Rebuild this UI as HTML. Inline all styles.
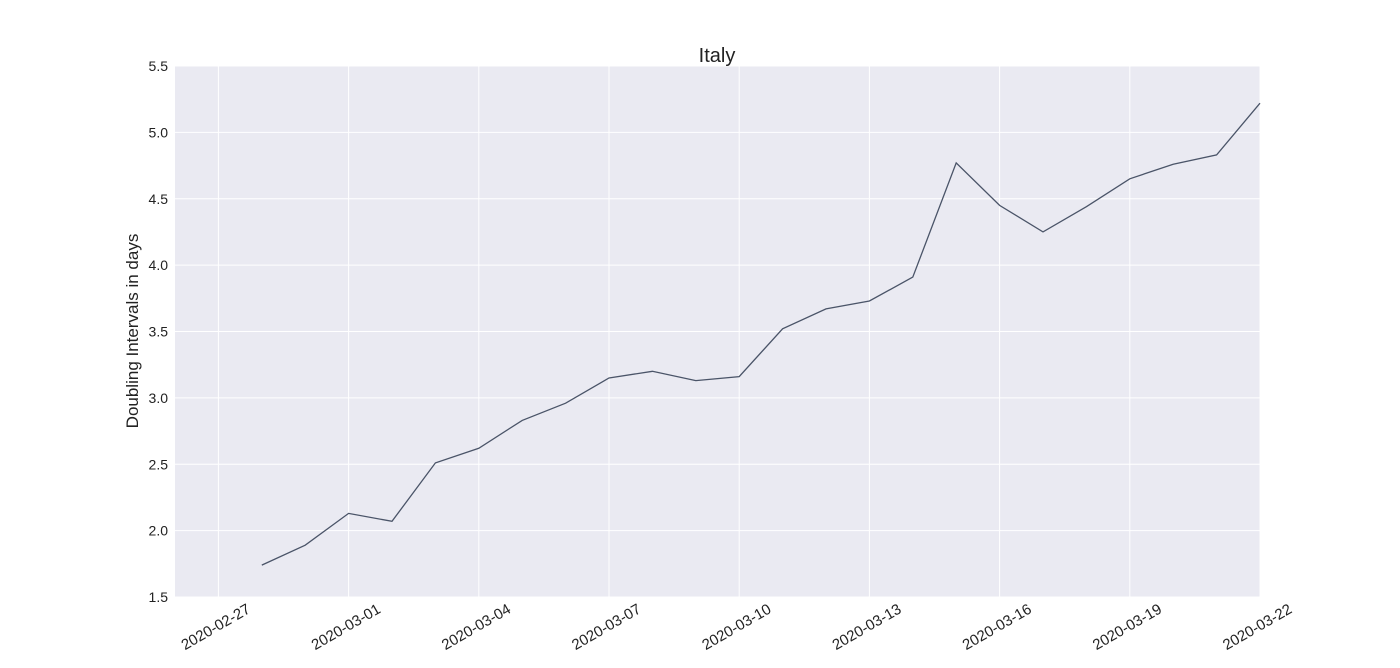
<!DOCTYPE html>
<html><head><meta charset="utf-8"><style>
body{margin:0;background:#fff;width:1400px;height:663px;overflow:hidden;font-family:"Liberation Sans","DejaVu Sans",sans-serif}
</style></head><body>
<svg id="chart" width="1400" height="663" xmlns="http://www.w3.org/2000/svg">
<rect x="175" y="66" width="1085" height="531" fill="#eaeaf2"/>
<g id="grid"></g>
<g id="ticks"></g>
<path id="line" fill="none" stroke="#4a5468" stroke-width="1.3"/>
<text x="717" y="62" text-anchor="middle" font-size="20" fill="#222">Italy</text>
<text transform="translate(138,331) rotate(-90)" text-anchor="middle" font-size="17" fill="#222">Doubling Intervals in days</text>
</svg>
<script>
const dates=["2020-02-28","2020-02-29","2020-03-01","2020-03-02","2020-03-03","2020-03-04","2020-03-05","2020-03-06","2020-03-07","2020-03-08","2020-03-09","2020-03-10","2020-03-11","2020-03-12","2020-03-13","2020-03-14","2020-03-15","2020-03-16","2020-03-17","2020-03-18","2020-03-19","2020-03-20","2020-03-21","2020-03-22"];
const values=[1.74,1.89,2.13,2.07,2.51,2.62,2.83,2.96,3.15,3.20,3.13,3.16,3.52,3.67,3.73,3.91,4.77,4.45,4.25,4.44,4.65,4.76,4.83,5.22];
const xTicks=["2020-02-27","2020-03-01","2020-03-04","2020-03-07","2020-03-10","2020-03-13","2020-03-16","2020-03-19","2020-03-22"];
const yTicks=[1.5,2.0,2.5,3.0,3.5,4.0,4.5,5.0,5.5];
const NS="http://www.w3.org/2000/svg";
const x0=Date.UTC(2020,1,26),x1=Date.UTC(2020,2,22);
function day(s){const p=s.split("-");return Date.UTC(+p[0],+p[1]-1,+p[2]);}
function X(s){return 175+(day(s)-x0)/(x1-x0)*1085;}
function Y(v){return 597-(v-1.5)/4*531;}
const grid=document.getElementById("grid"),ticks=document.getElementById("ticks");
function mk(tag,attrs,parent){const e=document.createElementNS(NS,tag);for(const k in attrs)e.setAttribute(k,attrs[k]);parent.appendChild(e);return e;}
yTicks.forEach(v=>{
 const l=mk("line",{x1:175,x2:1260,y1:Y(v),y2:Y(v),stroke:"#fff","stroke-width":1},grid);
 
 
 const t=mk("text",{x:168,y:Y(v)+5,"text-anchor":"end","font-size":14,fill:"#222"},ticks);
 t.textContent=v.toFixed(1);
 
 
});
xTicks.forEach(s=>{
 const x=X(s);
 const l=mk("line",{x1:x,x2:x,y1:66,y2:597,stroke:"#fff","stroke-width":1},grid);
 
 
 const t=mk("text",{transform:`translate(${x+33},${612}) rotate(-30)`,"text-anchor":"end","font-size":15,fill:"#222"},ticks);
 t.textContent=s;
 
 
});
document.getElementById("line").setAttribute("d",dates.map((d,i)=>(i?"L":"M")+X(d).toFixed(1)+","+Y(values[i]).toFixed(1)).join(""));
</script>
</body></html>
